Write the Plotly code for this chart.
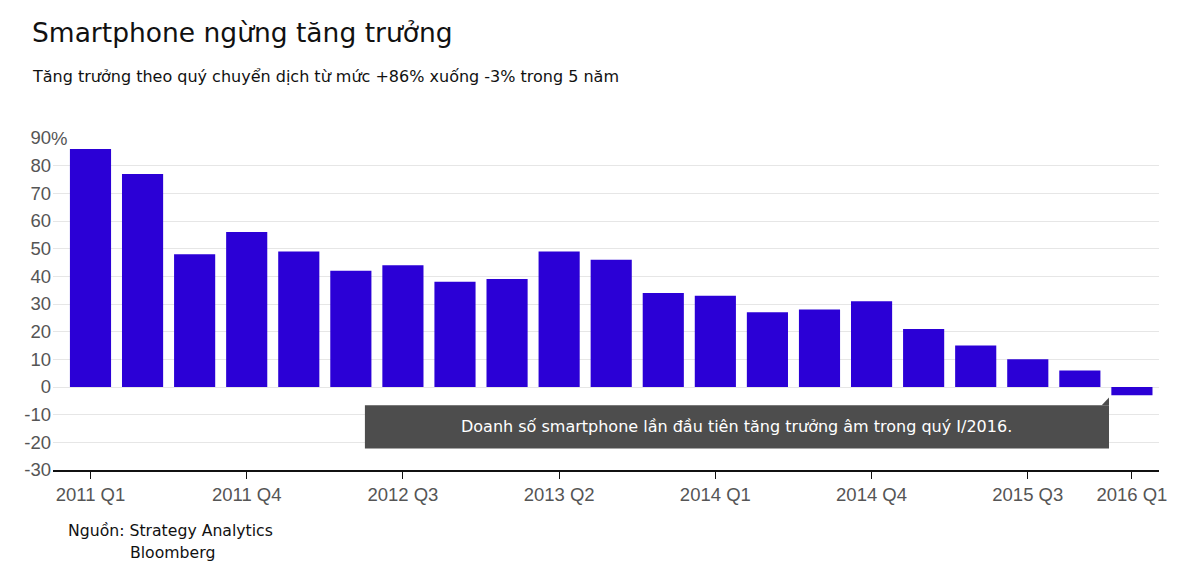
import plotly.graph_objects as go

quarters = ["2011 Q1", "2011 Q2", "2011 Q3", "2011 Q4", "2012 Q1", "2012 Q2", "2012 Q3",
            "2012 Q4", "2013 Q1", "2013 Q2", "2013 Q3", "2013 Q4", "2014 Q1", "2014 Q2",
            "2014 Q3", "2014 Q4", "2015 Q1", "2015 Q2", "2015 Q3", "2015 Q4", "2016 Q1"]
growth = [86, 77, 48, 56, 49, 42, 44, 38, 39, 49, 46, 34, 33, 27, 28, 31, 21, 15, 10, 6, -3]
shown_ticks = ["2011 Q1", "2011 Q4", "2012 Q3", "2013 Q2", "2014 Q1", "2014 Q4", "2015 Q3", "2016 Q1"]
y_ticks = [-30, -20, -10, 0, 10, 20, 30, 40, 50, 60, 70, 80, 90]

title = "Smartphone ngừng tăng trưởng"
subtitle = "Tăng trưởng theo quý chuyển dịch từ mức +86% xuống -3% trong 5 năm"
note = "Doanh số smartphone lần đầu tiên tăng trưởng âm trong quý I/2016."

idx = list(range(len(quarters)))
tick_idx = [quarters.index(q) for q in shown_ticks]

fig = go.Figure(go.Bar(x=idx, y=growth, marker=dict(color="#2b00d6", line=dict(width=0)),
                       width=0.79, hoverinfo="skip"))

tick_font = dict(family="Liberation Sans, Arial, sans-serif", size=18.5, color="#555555")
fig.update_layout(
    width=1200, height=586,
    paper_bgcolor="white", plot_bgcolor="white",
    margin=dict(l=45, r=49, t=130, b=124),
    showlegend=False,
    xaxis=dict(range=[-0.72, 20.52], tickmode="array", tickvals=tick_idx, ticktext=shown_ticks,
               showgrid=False, zeroline=False, showline=True, linecolor="#111111", linewidth=1.5,
               ticks="outside", ticklen=7, tickcolor="#111111", tickwidth=1.2,
               tickfont=tick_font),
    yaxis=dict(range=[-30, 90], tickmode="array", tickvals=y_ticks,
               ticktext=[str(v) for v in y_ticks],
               showgrid=True, gridcolor="#e6e6e6", gridwidth=1, zeroline=False,
               ticks="", tickfont=tick_font, ticklabelstandoff=1),
)

# "%" suffix on top tick
fig.add_annotation(x=0, xref="paper", xanchor="left", y=90, yref="y", yanchor="middle",
                   text="%", showarrow=False, font=tick_font, xshift=-4)

PW, PH, PX, PY = 1106, 332, 53, 470
def px(x):
    return (x - PX) / PW
def py(y):
    return (PY - y) / PH

text_font = "DejaVu Sans"
fig.add_annotation(x=px(30), xref="paper", xanchor="left", y=py(32), yref="paper",
                   yanchor="middle", text=title, showarrow=False,
                   font=dict(family=text_font, size=26.5, color="#111111"))
fig.add_annotation(x=px(30), xref="paper", xanchor="left", y=py(77), yref="paper",
                   yanchor="middle", text=subtitle, showarrow=False,
                   font=dict(family=text_font, size=16, color="#111111"))
fig.add_annotation(x=px(66), xref="paper", xanchor="left", y=py(530), yref="paper",
                   yanchor="middle", text="Nguồn: Strategy Analytics", showarrow=False,
                   font=dict(family=text_font, size=15.7, color="#111111"))
fig.add_annotation(x=px(128), xref="paper", xanchor="left", y=py(552), yref="paper",
                   yanchor="middle", text="Bloomberg", showarrow=False,
                   font=dict(family=text_font, size=15.7, color="#111111"))

# callout box
box_x0, box_x1, box_y0, box_y1 = 5.27, 19.56, -22.2, -6.6
fig.add_shape(type="rect", xref="x", yref="y", x0=box_x0, x1=box_x1, y0=box_y0, y1=box_y1,
              fillcolor="#4d4d4d", line=dict(width=0), layer="above")
fig.add_shape(type="path", xref="x", yref="y",
              path=f"M {box_x1-0.14} {box_y1} L {box_x1} {box_y1} L {box_x1} {box_y1+2.8} Z",
              fillcolor="#4d4d4d", line=dict(width=0), layer="above")
fig.add_annotation(x=(box_x0+box_x1)/2, y=(box_y0+box_y1)/2, xref="x", yref="y", text=note,
                   showarrow=False, font=dict(family=text_font, size=16, color="white"))

fig.write_html("out.html")
